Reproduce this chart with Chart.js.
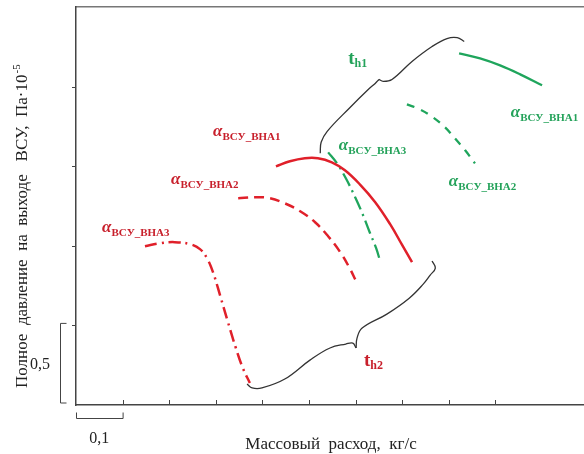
<!DOCTYPE html>
<html>
<head>
<meta charset="utf-8">
<script src="https://cdn.jsdelivr.net/npm/chart.js@4.4.0/dist/chart.umd.min.js"></script>
<style>
  body { margin: 0; background: #fff; }
  #wrap { width: 584px; height: 454px; }
</style>
</head>
<body>
<div id="wrap"><canvas id="mapChart"></canvas></div>
<script>
// axes (mass flow, kg/s x total pressure) - only a scale is shown, no absolute values
const xMax = 1.09;
const yMax = 2.5;
const xStep = 0.1;
const yStep = 0.5;

// first operating mode (red)
const redBha1X = [0.429, 0.459, 0.491, 0.519, 0.549, 0.577, 0.609, 0.642, 0.674, 0.700, 0.721];
const redBha1Y = [1.499, 1.531, 1.550, 1.550, 1.524, 1.474, 1.386, 1.274, 1.136, 1.004, 0.897];
const redBha2X = [0.348, 0.384, 0.416, 0.448, 0.481, 0.513, 0.541, 0.567, 0.586, 0.601];
const redBha2Y = [1.299, 1.305, 1.299, 1.267, 1.217, 1.148, 1.060, 0.960, 0.866, 0.778];
const redBha3X = [0.148, 0.180, 0.212, 0.245, 0.266, 0.281, 0.294, 0.309, 0.326, 0.343, 0.358, 0.373];
const redBha3Y = [0.997, 1.016, 1.023, 1.010, 0.979, 0.922, 0.834, 0.690, 0.521, 0.358, 0.232, 0.138];

// second operating mode (green)
const greenBha1X = [0.822, 0.867, 0.910, 0.953, 1.000];
const greenBha1Y = [2.208, 2.177, 2.133, 2.077, 2.008];
const greenBha2X = [0.710, 0.738, 0.766, 0.792, 0.813, 0.835, 0.856];
const greenBha2Y = [1.888, 1.857, 1.807, 1.744, 1.675, 1.600, 1.518];
const greenBha3X = [0.541, 0.560, 0.579, 0.599, 0.616, 0.631, 0.644, 0.652];
const greenBha3Y = [1.587, 1.518, 1.424, 1.305, 1.192, 1.079, 0.985, 0.910];

// curly braces th1 / th2, each as two arms meeting at the cusp
const th1aX = [0.524, 0.526, 0.539, 0.588, 0.627, 0.642, 0.650];
const th1aY = [1.581, 1.650, 1.719, 1.869, 1.982, 2.020, 2.045];
const th1bX = [0.650, 0.659, 0.678, 0.721, 0.764, 0.796, 0.818, 0.833];
const th1bY = [2.045, 2.033, 2.045, 2.158, 2.252, 2.302, 2.308, 2.283];
const th2aX = [0.367, 0.378, 0.399, 0.448, 0.502, 0.545, 0.579, 0.594, 0.601];
const th2aY = [0.132, 0.107, 0.107, 0.163, 0.282, 0.358, 0.383, 0.389, 0.358];
const th2bX = [0.601, 0.603, 0.614, 0.667, 0.715, 0.745, 0.760, 0.771, 0.764];
const th2bY = [0.358, 0.420, 0.483, 0.571, 0.671, 0.759, 0.816, 0.860, 0.904];

// curve labels: [x, y, subscript, colour]
const alphaLabels = [
  [0.294, 1.688, 'ВСУ_ВНА1', '#c8202c'],
  [0.204, 1.386, 'ВСУ_ВНА2', '#c8202c'],
  [0.056, 1.085, 'ВСУ_ВНА3', '#c8202c'],
  [0.933, 1.807, 'ВСУ_ВНА1', '#24a25a'],
  [0.800, 1.374, 'ВСУ_ВНА2', '#24a25a'],
  [0.564, 1.600, 'ВСУ_ВНА3', '#24a25a']
];
const thLabels = [
  [0.584, 2.139, 'h1', '#24a25a'],
  [0.618, 0.245, 'h2', '#c8202c']
];

const RED = '#e0202a';
const GREEN = '#1fa55c';
const BRACE = '#333333';

function pts(xs, ys) {
  return xs.map((v, i) => ({ x: v, y: ys[i] }));
}

function curve(xs, ys, color, width, dash) {
  return {
    data: pts(xs, ys),
    showLine: true,
    borderColor: color,
    borderWidth: width,
    borderDash: dash,
    pointRadius: 0,
    tension: 0.4,
    fill: false
  };
}

Chart.defaults.font.family = "'Liberation Serif', serif";

const overlay = {
  id: 'overlay',
  afterDraw(chart) {
    const { ctx, chartArea } = chart;
    const x = chart.scales.x;
    const y = chart.scales.y;
    ctx.save();
    ctx.strokeStyle = '#444';
    ctx.lineWidth = 1;

    // x ticks, pointing inside
    x.ticks.forEach(t => {
      const k = t.value / xStep;
      if (t.value > 0 && Math.abs(k - Math.round(k)) < 1e-6) {
        const px = Math.round(x.getPixelForValue(t.value)) + 0.5;
        ctx.beginPath();
        ctx.moveTo(px, chartArea.bottom);
        ctx.lineTo(px, chartArea.bottom - 5);
        ctx.stroke();
      }
    });
    // y ticks, pointing outside
    y.ticks.forEach(t => {
      if (t.value > 0 && t.value < yMax) {
        const py = Math.round(y.getPixelForValue(t.value)) + 0.5;
        ctx.beginPath();
        ctx.moveTo(chartArea.left - 4, py);
        ctx.lineTo(chartArea.left, py);
        ctx.stroke();
      }
    });

    // scale bars
    const bx0 = x.getPixelForValue(0), bx1 = x.getPixelForValue(xStep);
    const byl = chartArea.bottom + 13.5;
    ctx.beginPath();
    ctx.moveTo(bx0 + 0.5, byl - 6);
    ctx.lineTo(bx0 + 0.5, byl);
    ctx.lineTo(bx1 + 0.5, byl);
    ctx.lineTo(bx1 + 0.5, byl - 6);
    ctx.stroke();
    const by0 = y.getPixelForValue(0) - 2, by1 = y.getPixelForValue(yStep) - 2;
    const bxl = chartArea.left - 15.5;
    ctx.beginPath();
    ctx.moveTo(bxl + 6, by1);
    ctx.lineTo(bxl, by1);
    ctx.lineTo(bxl, by0);
    ctx.lineTo(bxl + 6, by0);
    ctx.stroke();

    ctx.fillStyle = '#222';
    ctx.font = "16px 'Liberation Serif'";
    ctx.textAlign = 'center';
    ctx.textBaseline = 'alphabetic';
    ctx.fillText('0,1', (bx0 + bx1) / 2, 443);
    ctx.fillText('0,5', 40, (by0 + by1) / 2 + 6);

    // axis titles
    ctx.font = "17px 'Liberation Serif'";
    ctx.fillText('Массовый  расход,  кг/с', 331, 449);
    ctx.save();
    ctx.translate(27, 388);
    ctx.rotate(-Math.PI / 2);
    ctx.textAlign = 'left';
    const ytxt = 'Полное  давление  на  выходе   ВСУ,  Па·10';
    ctx.fillText(ytxt, 0, 0);
    const w = ctx.measureText(ytxt).width;
    ctx.font = "11px 'Liberation Serif'";
    ctx.fillText('-5', w + 1, -7);
    ctx.restore();

    // alpha labels
    alphaLabels.forEach(([lx, ly, sub, col]) => {
      const px = x.getPixelForValue(lx), py = y.getPixelForValue(ly);
      ctx.fillStyle = col;
      ctx.textAlign = 'left';
      ctx.font = "italic bold 17px 'Liberation Serif'";
      ctx.fillText('α', px, py);
      const aw = ctx.measureText('α').width;
      ctx.font = "bold 11px 'Liberation Serif'";
      ctx.fillText(sub, px + aw, py + 4);
    });
    thLabels.forEach(([lx, ly, sub, col]) => {
      const px = x.getPixelForValue(lx), py = y.getPixelForValue(ly);
      ctx.fillStyle = col;
      ctx.textAlign = 'left';
      ctx.font = "bold 19px 'Liberation Serif'";
      ctx.fillText('t', px, py);
      const tw = ctx.measureText('t').width;
      ctx.font = "bold 12px 'Liberation Serif'";
      ctx.fillText(sub, px + tw, py + 3);
    });
    ctx.restore();
  }
};

new Chart(document.getElementById('mapChart'), {
  type: 'scatter',
  data: {
    datasets: [
      curve(redBha1X, redBha1Y, RED, 2.5, []),
      curve(redBha2X, redBha2Y, RED, 2.5, [10, 6]),
      curve(redBha3X, redBha3Y, RED, 2.5, [12, 5, 2, 5]),
      curve(greenBha1X, greenBha1Y, GREEN, 2.3, []),
      curve(greenBha2X, greenBha2Y, GREEN, 2.3, [8, 7]),
      curve(greenBha3X, greenBha3Y, GREEN, 2.3, [14, 5, 2, 5]),
      curve(th1aX, th1aY, BRACE, 1.3, []),
      curve(th1bX, th1bY, BRACE, 1.3, []),
      curve(th2aX, th2aY, BRACE, 1.3, []),
      curve(th2bX, th2bY, BRACE, 1.3, [])
    ]
  },
  options: {
    responsive: true,
    maintainAspectRatio: false,
    animation: false,
    layout: { padding: 0 },
    plugins: {
      legend: { display: false },
      tooltip: { enabled: false }
    },
    scales: {
      x: {
        type: 'linear',
        min: 0,
        max: xMax,
        ticks: { display: false, stepSize: xStep },
        grid: { display: false },
        border: { display: true, color: '#444', width: 1.5 },
        afterFit: s => { s.height = 49; }
      },
      xTop: {
        type: 'linear',
        axis: 'x',
        position: 'top',
        min: 0,
        max: xMax,
        ticks: { display: false },
        grid: { display: false },
        border: { display: true, color: '#777', width: 1.5 },
        afterFit: s => { s.height = 7; }
      },
      y: {
        type: 'linear',
        min: 0,
        max: yMax,
        ticks: { display: false, stepSize: yStep },
        grid: { display: false },
        border: { display: true, color: '#444', width: 1.5 },
        afterFit: s => { s.width = 76; }
      }
    }
  },
  plugins: [overlay]
});
</script>
</body>
</html>
